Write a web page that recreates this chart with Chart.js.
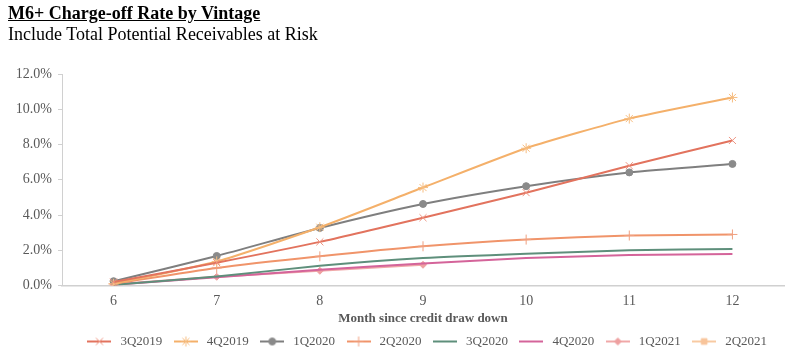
<!DOCTYPE html>
<html>
<head>
<meta charset="utf-8">
<script src="https://cdn.jsdelivr.net/npm/chart.js@4.4.1/dist/chart.umd.min.js"></script>
<style>
  html, body { margin: 0; padding: 0; background: #fff; }
  #wrap { position: relative; width: 800px; height: 358px; }
  #t1 { position: absolute; left: 8px; top: 3px; font: bold 18px "Liberation Serif", serif; color: #000; text-decoration: underline; white-space: nowrap; }
  #t2 { position: absolute; left: 8px; top: 24px; font: 18px "Liberation Serif", serif; color: #000; white-space: nowrap; }
  canvas { position: absolute; left: 0; top: 0; }
</style>
</head>
<body>
<div id="wrap">
  <canvas id="c" width="800" height="358"></canvas>
  <div id="t1">M6+ Charge-off Rate by Vintage</div>
  <div id="t2">Include Total Potential Receivables at Risk</div>
</div>
<script>
const months = ["6", "7", "8", "9", "10", "11", "12"];
const s3Q2019 = [0.2, 1.3, 2.48, 3.85, 5.27, 6.8, 8.23];
const s4Q2019 = [0.1, 1.37, 3.31, 5.56, 7.79, 9.47, 10.67];
const s1Q2020 = [0.25, 1.68, 3.27, 4.63, 5.64, 6.42, 6.9];
const s2Q2020 = [0.1, 1.0, 1.66, 2.23, 2.61, 2.84, 2.9];
const s3Q2020 = [0.05, 0.52, 1.12, 1.56, 1.81, 2.0, 2.08];
const s4Q2020 = [0.05, 0.47, 0.9, 1.25, 1.56, 1.73, 1.79];
const s1Q2021 = [0.08, 0.5, 0.84, 1.18, null, null, null];
const s2Q2021 = [0.1, null, null, null, null, null, null];
const yTicks = [0, 2, 4, 6, 8, 10, 12];

const seriesDefs = [
  { label: "3Q2019", data: s3Q2019, color: "#E2735E", marker: "#EE9482", style: "crossRot", r: 5 },
  { label: "4Q2019", data: s4Q2019, color: "#F4B06A", marker: "#F6BD80", style: "star", r: 5 },
  { label: "1Q2020", data: s1Q2020, color: "#7F7F7F", marker: "#8A8A8A", style: "circle", r: 3.5 },
  { label: "2Q2020", data: s2Q2020, color: "#F0946A", marker: "#F0A080", style: "cross", r: 5 },
  { label: "3Q2020", data: s3Q2020, color: "#5E8F7B", marker: "#5E8F7B", style: false, r: 0 },
  { label: "4Q2020", data: s4Q2020, color: "#D4649A", marker: "#D4649A", style: false, r: 0 },
  { label: "1Q2021", data: s1Q2021, color: "#F0A8A8", marker: "#EEA0A0", style: "rectRot", r: 3.5 },
  { label: "2Q2021", data: s2Q2021, color: "#F8CAA2", marker: "#F8C49A", style: "rect", r: 4 }
];

const datasets = seriesDefs.map(d => ({
  label: d.label,
  data: d.data,
  borderColor: d.color,
  backgroundColor: d.marker,
  borderWidth: 2,
  pointStyle: d.style || "circle",
  pointRadius: d.style ? d.r : 0,
  pointBorderColor: d.marker,
  pointBackgroundColor: d.marker,
  pointBorderWidth: 1,
  tension: 0.2,
  spanGaps: false,
  fill: false
}));

const images = seriesDefs.map(d => {
  const cv = document.createElement("canvas");
  cv.width = 24; cv.height = 12;
  const ctx = cv.getContext("2d");
  ctx.strokeStyle = d.color;
  ctx.lineWidth = 2;
  ctx.beginPath(); ctx.moveTo(0, 6); ctx.lineTo(24, 6); ctx.stroke();
  if (d.style) {
    ctx.fillStyle = d.marker; ctx.strokeStyle = d.marker; ctx.lineWidth = 1;
    Chart.helpers.drawPoint(ctx, { pointStyle: d.style, radius: d.r, borderWidth: 1, rotation: 0 }, 12, 6);
  }
  return cv;
});

const serif = "'Liberation Serif', 'Times New Roman', serif";
const grey = "#595959";

const legendShift = {
  id: "legendShift",
  afterLayout(chart) {
    if (chart.legend) {
      chart.legend.left += 34;
      chart.legend.right += 34;
    }
  }
};

new Chart(document.getElementById("c"), {
  type: "line",
  data: { labels: months, datasets },
  plugins: [legendShift],
  options: {
    responsive: false,
    animation: false,
    layout: { padding: { top: 74, right: 16, left: 0, bottom: 0 } },
    plugins: {
      tooltip: { enabled: false },
      title: { display: false },
      legend: {
        position: "bottom",
        labels: {
          usePointStyle: true,
          pointStyleWidth: 29,
          boxHeight: 12,
          padding: 9,
          color: grey,
          font: { family: serif, size: 13 },
          generateLabels: chart => seriesDefs.map((d, i) => ({
            text: d.label,
            pointStyle: images[i],
            fontColor: grey,
            strokeStyle: "transparent",
            fillStyle: "transparent",
            lineWidth: 0,
            datasetIndex: i,
            hidden: false
          }))
        }
      }
    },
    scales: {
      x: {
        offset: true,
        afterFit: s => { s.height -= 6; },
        grid: { display: false, drawTicks: false },
        border: { display: true, color: "#D0D0D0", width: 1.5 },
        ticks: { color: grey, font: { family: serif, size: 14 }, padding: 7 },
        title: {
          display: true,
          text: "Month since credit draw down",
          color: grey,
          font: { family: serif, size: 13, weight: "bold" },
          padding: { top: 0, bottom: 0 }
        }
      },
      y: {
        min: 0,
        max: 12,
        afterBuildTicks: s => { s.ticks = yTicks.map(v => ({ value: v })); },
        afterFit: s => { s.width = 62; },
        grid: { display: true, drawOnChartArea: false, drawTicks: true, tickLength: 4, color: "#D0D0D0" },
        border: { display: true, color: "#D0D0D0", width: 1 },
        ticks: {
          color: grey,
          font: { family: serif, size: 14 },
          padding: 6,
          callback: v => v.toFixed(1) + "%"
        }
      }
    }
  }
});
</script>
</body>
</html>
